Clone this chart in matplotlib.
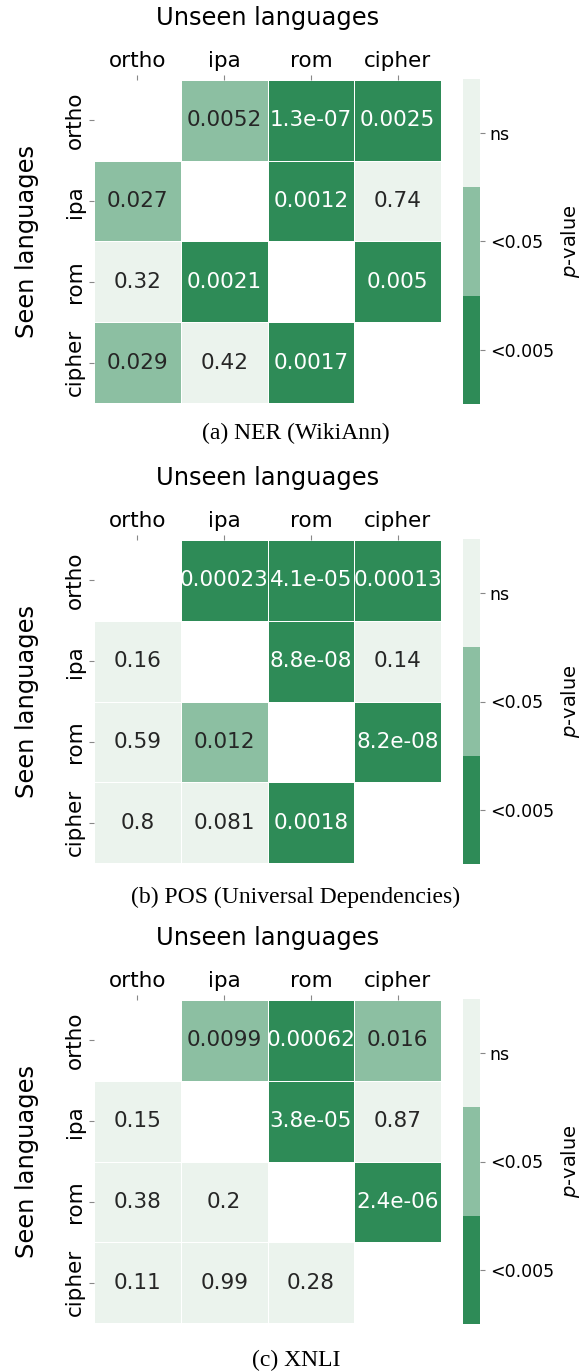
import numpy as np
import matplotlib
matplotlib.use("Agg")
import matplotlib.pyplot as plt
from matplotlib.colors import ListedColormap
import seaborn as sns

# p-values: rows = seen languages, columns = unseen languages
langs = ["ortho", "ipa", "rom", "cipher"]
nan = np.nan

ner_p = [[nan, 0.0052, 1.3e-07, 0.0025],
         [0.027, nan, 0.0012, 0.74],
         [0.32, 0.0021, nan, 0.00496],
         [0.029, 0.42, 0.0017, nan]]

pos_p = [[nan, 0.00023, 4.1e-05, 0.00013],
         [0.16, nan, 8.8e-08, 0.14],
         [0.59, 0.012, nan, 8.2e-08],
         [0.8, 0.081, 0.0018, nan]]

xnli_p = [[nan, 0.0099, 0.00062, 0.016],
          [0.15, nan, 3.8e-05, 0.87],
          [0.38, 0.2, nan, 2.4e-06],
          [0.11, 0.99, 0.28, nan]]

captions = ["(a) NER (WikiAnn)", "(b) POS (Universal Dependencies)", "(c) XNLI"]
cbar_labels = ["<0.005", "<0.05", "ns"]

W, H = 585, 1372
fig = plt.figure(figsize=(W / 100, H / 100), dpi=100)

pal = sns.light_palette("seagreen", 3)
cmap = ListedColormap(pal[::-1])


def fx(px):
    return px / W


def fy(px):
    return 1 - px / H


panels = [ner_p, pos_p, xnli_p]
tops = [80, 540, 1000]
title_base = [25, 485, 945]
cap_y = [433, 897, 1360]

for p, top, tb, cy, cap in zip(panels, tops, title_base, cap_y, captions):
    p = np.array(p, dtype=float)
    cat = np.where(p < 0.005, 0, np.where(p < 0.05, 1, 2)).astype(float)
    cat[np.isnan(p)] = np.nan
    labels = np.array([["" if np.isnan(v) else f"{v:.2g}" for v in row] for row in p])

    ax = fig.add_axes([fx(94), fy(top + 323), fx(347), 323 / H])
    cax = fig.add_axes([fx(463), fy(top + 324), fx(17), 325 / H])

    sns.heatmap(cat, mask=np.isnan(cat), annot=labels, fmt="", cmap=cmap,
                vmin=-0.5, vmax=2.5, linewidths=0.7, linecolor="white",
                ax=ax, cbar_ax=cax, annot_kws={"size": 15.5})

    ax.xaxis.tick_top()
    ax.set_xticklabels(langs, fontsize=15.5, rotation=0)
    ax.set_yticklabels(langs, fontsize=15.5, rotation=90, va="center")
    ax.tick_params(axis="both", color="#888888", width=0.8, length=3.5, pad=3)

    cb = ax.collections[0].colorbar
    cb.set_ticks([0, 1, 2])
    cb.set_ticklabels(cbar_labels)
    cb.ax.tick_params(labelsize=12.5, color="#888888", width=0.8, length=3.5)
    cb.outline.set_linewidth(0)
    cb.set_label("$p$-value", fontsize=14, labelpad=4)

    fig.text(fx(268), fy(tb), "Unseen languages", fontsize=17.4,
             ha="center", va="baseline")
    fig.text(fx(27), fy(top + 161), "Seen languages", fontsize=17.4,
             ha="center", va="center", rotation=90)
    fig.text(fx(296), fy(cy), cap, fontsize=17, family="Liberation Serif",
             ha="center", va="center")

fig.savefig("out.png", dpi=100, facecolor="white")
